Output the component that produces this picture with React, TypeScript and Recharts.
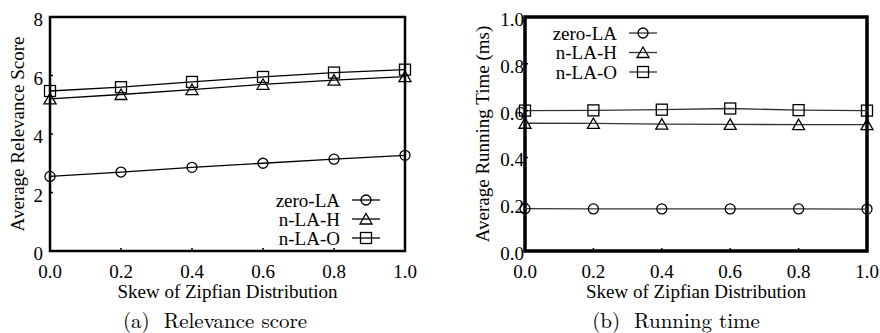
import { Line, LineChart, ReferenceArea, XAxis, YAxis } from 'recharts';

const skew = [0, 0.2, 0.4, 0.6, 0.8, 1.0];
const skewTicks = [0, 0.2, 0.4, 0.6, 0.8, 1.0];

// (a) average relevance score
const scoreZeroLA = [2.55, 2.7, 2.86, 3.0, 3.14, 3.27];
const scoreNLAH = [5.2, 5.35, 5.52, 5.7, 5.84, 5.96];
const scoreNLAO = [5.47, 5.6, 5.78, 5.95, 6.1, 6.2];
const scoreTicks = [0, 2, 4, 6, 8];

// (b) average running time (ms)
const timeZeroLA = [0.181, 0.18, 0.18, 0.18, 0.18, 0.179];
const timeNLAH = [0.546, 0.545, 0.542, 0.541, 0.54, 0.54];
const timeNLAO = [0.6, 0.601, 0.604, 0.609, 0.602, 0.6];
const timeTicks = [0, 0.2, 0.4, 0.6, 0.8, 1.0];

const seriesNames = ['zero-LA', 'n-LA-H', 'n-LA-O'];
const markers = ['circle', 'triangle', 'square'];

const FONT = '"Liberation Serif", "Times New Roman", serif';

const buildRows = (a: number[], b: number[], c: number[]) =>
  skew.map((s, i) => ({ skew: s, zeroLA: a[i], nLAH: b[i], nLAO: c[i] }));

const scoreRows = buildRows(scoreZeroLA, scoreNLAH, scoreNLAO);
const timeRows = buildRows(timeZeroLA, timeNLAH, timeNLAO);
const dataKeys = ['zeroLA', 'nLAH', 'nLAO'];

const Marker = ({ kind, cx, cy, color = '#000' }: { kind: string; cx: number; cy: number; color?: string }) => {
  if (kind === 'circle') {
    return <circle cx={cx} cy={cy} r={5} fill="none" stroke={color} strokeWidth={1.3} />;
  }
  if (kind === 'triangle') {
    const h = 5.5;
    return (
      <polygon
        points={`${cx},${cy - h} ${cx - 6},${cy + h - 0.5} ${cx + 6},${cy + h - 0.5}`}
        fill="none"
        stroke={color}
        strokeWidth={1.3}
      />
    );
  }
  return <rect x={cx - 5.5} y={cy - 5.5} width={11} height={11} fill="none" stroke={color} strokeWidth={1.3} />;
};

const makeYTick = (gap: number, digits: number) => (props: any) => {
  const { x, y, payload } = props;
  return (
    <g>
      <line x1={x} x2={x + 3} y1={y} y2={y} stroke="#000" strokeWidth={1.5} />
      <text x={x - gap} y={y + 9} textAnchor="end" fontFamily={FONT} fontSize={19} fill="#000">
        {Number(payload.value).toFixed(digits)}
      </text>
    </g>
  );
};

const XTick = (props: any) => {
  const { x, y, payload } = props;
  return (
    <g>
      <line x1={x} x2={x} y1={y} y2={y - 3} stroke="#000" strokeWidth={1.5} />
      <text x={x} y={y + 27} textAnchor="middle" fontFamily={FONT} fontSize={19} fill="#000">
        {Number(payload.value).toFixed(1)}
      </text>
    </g>
  );
};

interface LegendProps {
  left: number;
  top: number;
  textRight: number;
  rowGap: number;
  lineColor: string;
}

// legend: text on the left, line sample with marker on the right
const KeyBox = ({ left, top, textRight, rowGap, lineColor }: LegendProps) => (
  <svg
    width={textRight + 50}
    height={rowGap * 3 + 10}
    style={{ position: 'absolute', left, top, overflow: 'visible' }}
  >
    {seriesNames.map((name, i) => {
      const cy = 10 + i * rowGap;
      return (
        <g key={name}>
          <text x={textRight} y={cy + 6.5} textAnchor="end" fontFamily={FONT} fontSize={19} fill="#000">
            {name}
          </text>
          <line x1={textRight + 12} x2={textRight + 40} y1={cy} y2={cy} stroke={lineColor} strokeWidth={1.3} />
          <Marker kind={markers[i]} cx={textRight + 26} cy={cy} />
        </g>
      );
    })}
  </svg>
);

interface PanelProps {
  rows: any[];
  yTicks: number[];
  yMax: number;
  yDigits: number;
  yTitle: string;
  yAxisWidth: number;
  rightMargin: number;
  tickGap: number;
  titleOffset: number;
  border: number;
  lineColor: string;
}

const Panel = ({ rows, yTicks, yMax, yDigits, yTitle, yAxisWidth, rightMargin, tickGap, titleOffset, border, lineColor }: PanelProps) => (
  <LineChart width={440} height={333} data={rows} margin={{ top: 17, right: rightMargin, bottom: 33, left: 0 }}>
    <ReferenceArea
      x1={0}
      x2={1}
      y1={0}
      y2={yMax}
      fill="none"
      stroke="#000"
      strokeWidth={border}
      ifOverflow="visible"
    />
    <XAxis
      dataKey="skew"
      type="number"
      domain={[0, 1]}
      ticks={skewTicks}
      height={49}
      axisLine={false}
      tickLine={false}
      tickSize={0}
      tickMargin={0}
      tick={XTick}
      interval={0}
      label={{
        value: 'Skew of Zipfian Distribution',
        position: 'insideBottom',
        offset: 2,
        style: { fontFamily: FONT, fontSize: 19, fill: '#000' }
      }}
    />
    <YAxis
      type="number"
      domain={[0, yMax]}
      ticks={yTicks}
      width={yAxisWidth}
      axisLine={false}
      tickLine={false}
      tickSize={0}
      tickMargin={0}
      tick={makeYTick(tickGap, yDigits)}
      interval={0}
      label={{
        value: yTitle,
        angle: -90,
        position: 'insideLeft',
        offset: titleOffset,
        style: { textAnchor: 'middle', fontFamily: FONT, fontSize: 19, fill: '#000' }
      }}
    />
    {dataKeys.map((key, i) => (
      <Line
        key={key}
        dataKey={key}
        name={seriesNames[i]}
        stroke={lineColor}
        strokeWidth={1.3}
        isAnimationActive={false}
        dot={(p: any) => <Marker key={`${key}-${p.index}`} kind={markers[i]} cx={p.cx} cy={p.cy} />}
      />
    ))}
  </LineChart>
);

const captionStyle = {
  position: 'absolute' as const,
  top: 308,
  width: 300,
  height: 22,
  lineHeight: '22px',
  textAlign: 'center' as const,
  fontFamily: '"Latin Modern Roman", "Liberation Serif", serif',
  fontSize: 21,
  color: '#000',
  whiteSpace: 'pre' as const
};

export default function App() {
  return (
    <div style={{ position: 'absolute', left: 0, top: 0, width: 880, height: 333, background: '#fff', overflow: 'hidden' }}>
      <div style={{ position: 'absolute', left: 0, top: 0 }}>
        <Panel
          rows={scoreRows}
          yTicks={scoreTicks}
          yMax={8}
          yDigits={0}
          yTitle="Average Relevance Score"
          yAxisWidth={50}
          rightMargin={35}
          tickGap={7}
          titleOffset={17}
          border={2.5}
          lineColor="#000"
        />
        <KeyBox left={0} top={190} textRight={340} rowGap={19} lineColor="#000" />
      </div>
      <div style={{ position: 'absolute', left: 440, top: 0 }}>
        <Panel
          rows={timeRows}
          yTicks={timeTicks}
          yMax={1}
          yDigits={1}
          yTitle="Average Running Time (ms)"
          yAxisWidth={85}
          rightMargin={13}
          tickGap={1}
          titleOffset={42}
          border={3.5}
          lineColor="#333"
        />
        <KeyBox left={0} top={23} textRight={177} rowGap={19.5} lineColor="#333" />
      </div>
      <div style={{ ...captionStyle, left: 65 }}>{'(a)  Relevance score'}</div>
      <div style={{ ...captionStyle, left: 526 }}>{'(b)  Running time'}</div>
    </div>
  );
}
